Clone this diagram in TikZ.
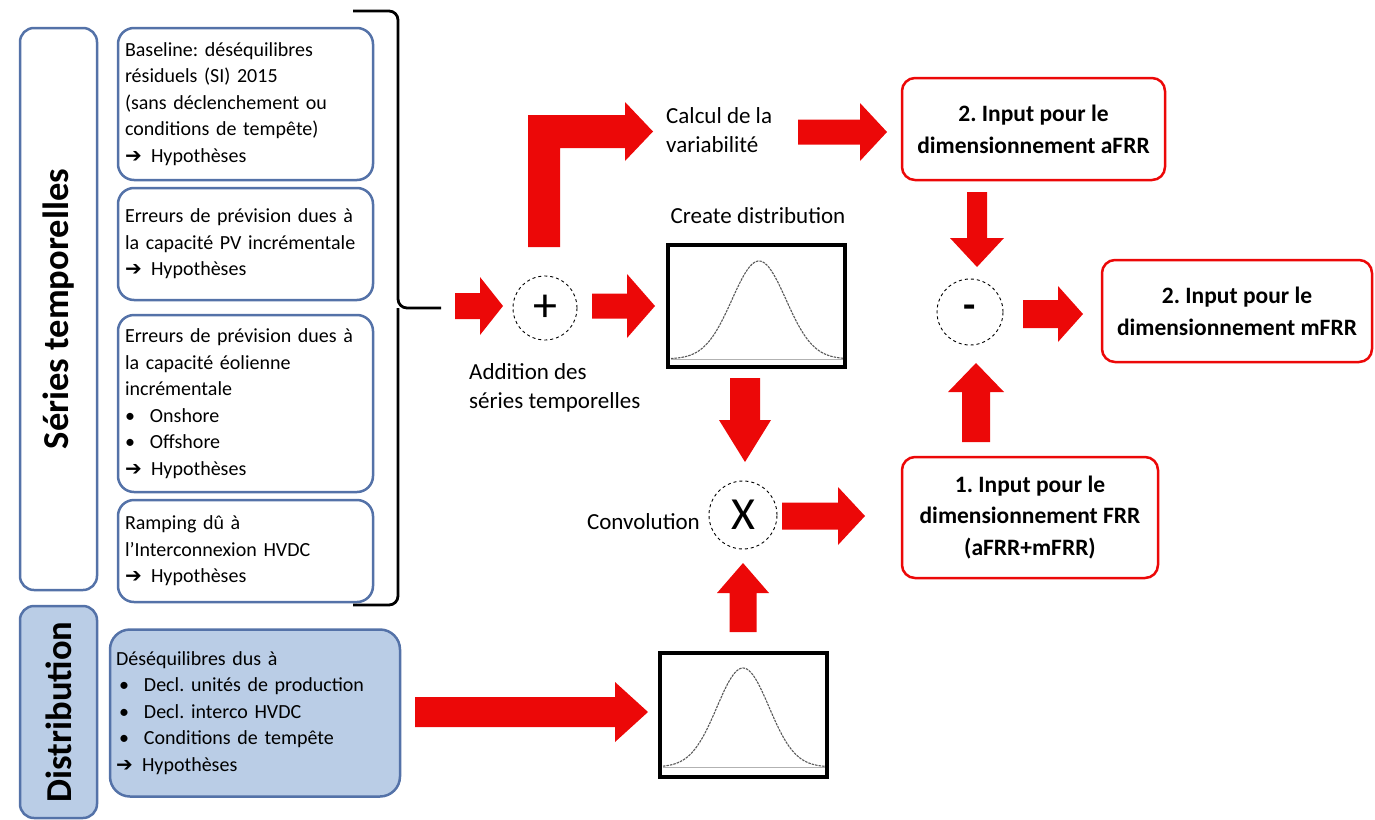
\documentclass[tikz,border=0pt]{standalone}
\usepackage{fontspec}
\setmainfont{Carlito}
\newfontfamily\djv{DejaVu Sans}
\frenchspacing
\definecolor{arrred}{RGB}{236,8,8}
\definecolor{boxblue}{RGB}{84,114,168}
\definecolor{fillblue}{RGB}{186,205,230}
\newcommand\harr[6]{% tail x, tip x, y, shaft half, head half, head length
  \fill[arrred] (#1,{#3-#4}) -- ({#2-#6},{#3-#4}) -- ({#2-#6},{#3-#5}) -- (#2,#3)
   -- ({#2-#6},{#3+#5}) -- ({#2-#6},{#3+#4}) -- (#1,{#3+#4}) -- cycle;}
\newcommand\varr[6]{% x, tail y, tip y, shaft half, head half, signed head length
  \fill[arrred] ({#1-#4},#2) -- ({#1-#4},{#3-#6}) -- ({#1-#5},{#3-#6}) -- (#1,#3)
   -- ({#1+#5},{#3-#6}) -- ({#1+#4},{#3-#6}) -- ({#1+#4},#2) -- cycle;}
\newcommand\hyp{\makebox[26pt][l]{\djv\bfseries\fontsize{20}{20}\selectfont ➔}Hypothèses}
\newcommand\bul[1]{\makebox[25pt][l]{•}#1}
\begin{document}
\begin{tikzpicture}[x=1pt,y=-1pt,
  bluebox/.style={draw=boxblue, line width=2.5pt, rounded corners=16pt, align=left,
    inner xsep=7pt, inner ysep=0pt, font=\fontsize{20}{26.5}\selectfont},
  sidebox/.style={draw=boxblue, line width=2.5pt, rounded corners=14pt, rotate=90,
    font=\bfseries\fontsize{36.5}{36.5}\selectfont, inner sep=0pt},
  redbox/.style={draw=arrred, line width=2.5pt, rounded corners=13pt, align=center,
    inner sep=0pt, font=\bfseries\fontsize{23.5}{32}\selectfont},
  lbl/.style={align=left, inner sep=0pt, font=\fontsize{23}{29}\selectfont},
  opcirc/.style={circle, draw, dashed, line width=0.9pt, minimum size=66pt, inner sep=0pt,
    font=\fontsize{48}{48}\selectfont},
  distbox/.style={draw, line width=4pt, inner sep=0pt},
  gauss/.style={gray!70!black, line width=1.1pt, dash pattern=on 2.5pt off 1pt}
]
\useasboundingbox (0,0) rectangle (1375,819);

% side labels
\node[sidebox, minimum width=562pt, minimum height=77pt] (st) at (58.5,309) {Séries temporelles};
\node[sidebox, fill=fillblue, minimum width=212pt, minimum height=77pt] (sd) at (58.5,712) {Distribution};

% left boxes
\node[bluebox, text width=241pt, minimum height=152pt] (b1) at (245.5,104)
  {Baseline: déséquilibres\\résiduels (SI) 2015\\(sans déclenchement ou\\conditions de tempête)\\\hyp};
\node[bluebox, text width=241pt, minimum height=112pt] (b2) at (245.5,244)
  {Erreurs de prévision dues à\\la capacité PV incrémentale\\\hyp};
\node[bluebox, text width=241pt, minimum height=177pt] (b3) at (245.5,403.5)
  {Erreurs de prévision dues à\\la capacité éolienne\\incrémentale\\\bul{Onshore}\\\bul{Offshore}\\\hyp};
\node[bluebox, text width=241pt, minimum height=102pt] (b4) at (245.5,551)
  {Ramping dû à\\l’Interconnexion HVDC\\\hyp};
\node[bluebox, fill=fillblue, rounded corners=20pt, text width=278pt, inner xsep=6pt, minimum height=167pt] (bd) at (255,713)
  {Déséquilibres dus à\\\hspace*{3pt}\bul{Decl. unités de production}\\\hspace*{3pt}\bul{Decl. interco HVDC}\\\hspace*{3pt}\bul{Conditions de tempête}\\\hyp};

% brace
\coordinate (brtip) at (441,308);
\draw[line width=2.8pt, rounded corners=9pt] (353,11) -- (398,11) -- (398,308) -- (brtip);
\draw[line width=2.8pt, rounded corners=9pt] (353,605) -- (398,605) -- (398,308);

% operators
\node[opcirc, minimum size=64pt] (plus) at (545,308) {+};
\node[opcirc, font=\bfseries\fontsize{40}{40}\selectfont] (minus) at (970,312) {-};
\node[opcirc, minimum size=68pt, font=\fontsize{46}{46}\selectfont] (conv) at (743,515) {X};

% distribution plots
\node[distbox, minimum width=177pt, minimum height=122pt] (d1) at (756.5,306) {};
\draw[gauss] plot[domain=671:843, samples=80, smooth] (\x,{359-98*exp(-((\x-759)/27)^2/2)});
\draw[gray!60, line width=0.8pt] (671,359) -- (843,359);
\node[distbox, minimum width=167pt, minimum height=124pt] (d2) at (743.5,715) {};
\draw[gauss] plot[domain=663:825, samples=80, smooth] (\x,{767-99*exp(-((\x-743)/26)^2/2)});
\draw[gray!60, line width=0.8pt] (663,767) -- (825,767);

% labels
\node[lbl, anchor=west] (calc) at (666,130) {Calcul de la\\variabilité};
\node[lbl, anchor=center] (create) at (758,216) {Create distribution};
\node[lbl, anchor=north west] (add) at (469,363) {Addition des\\séries temporelles};
\node[lbl, anchor=east] (convl) at (700,522) {Convolution};

% red boxes
\node[redbox, minimum width=263pt, minimum height=102pt] (afrr) at (1033.5,129)
  {2. Input pour le\\dimensionnement aFRR};
\node[redbox, minimum width=270pt, minimum height=102pt] (mfrr) at (1237,311)
  {2. Input pour le\\dimensionnement mFRR};
\node[redbox, minimum width=256pt, minimum height=121pt, font=\bfseries\fontsize{23.5}{31.5}\selectfont] (frr) at (1030,517.5)
  {1. Input pour le\\dimensionnement FRR\\(aFRR+mFRR)};

% block arrows
\harr{455}{503}{306}{13}{29}{23}      % brace -> plus
\harr{592}{655}{306}{12.5}{32}{28}    % plus -> create distribution
\fill[arrred] (528,247) -- (528,115) -- (625,115) -- (625,102) -- (653,131.5)
  -- (625,161) -- (625,148) -- (560,148) -- (560,247) -- cycle; % plus -> calcul
\harr{798}{887}{132}{12.5}{29}{27}    % calcul -> aFRR
\varr{977}{192}{267}{10}{27}{29}      % aFRR -> minus
\harr{1023}{1083}{314}{14}{28}{25}    % minus -> mFRR
\varr{976}{442}{363}{14}{28}{-29}     % FRR -> minus
\varr{745}{378}{462}{15}{26}{42}      % d1 -> conv
\harr{782}{865}{516}{13.5}{29}{27}    % conv -> FRR
\varr{743}{632}{563}{13.5}{26}{-30}   % d2 -> conv
\harr{415}{648}{712}{15}{30}{33}      % distribution -> d2
\end{tikzpicture}
\end{document}
